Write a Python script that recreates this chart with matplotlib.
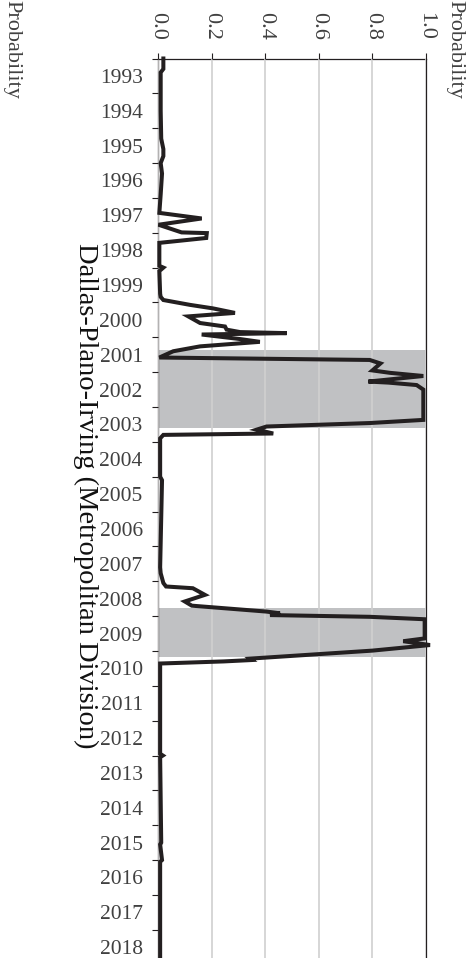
import numpy as np
import matplotlib.pyplot as plt

plt.rcParams['font.family'] = ['Liberation Serif', 'DejaVu Serif']

# recession probability, decimal year vs probability
dates = [1993.00, 1993.30, 1993.40, 1994.50, 1995.30, 1995.60, 1995.80, 1996.00,
         1996.30, 1996.90, 1997.43, 1997.59, 1997.77, 1997.99, 1998.01, 1998.15,
         1998.29, 1998.95, 1999.00, 1999.10, 1999.75, 1999.84, 1999.93, 2000.07,
         2000.17, 2000.30, 2000.40, 2000.59, 2000.69, 2000.78, 2000.85, 2000.88,
         2000.92, 2001.05, 2001.13, 2001.26, 2001.40, 2001.58, 2001.65, 2001.75,
         2001.95, 2002.02, 2002.11, 2002.27, 2002.30, 2002.37, 2002.50, 2003.37,
         2003.46, 2003.56, 2003.65, 2003.76, 2003.80, 2003.90, 2005.00, 2005.10,
         2007.60, 2007.77, 2008.05, 2008.15, 2008.20, 2008.39, 2008.58, 2008.70,
         2008.87, 2008.92, 2008.97, 2009.02, 2009.09, 2009.64, 2009.72, 2009.83,
         2009.99, 2010.22, 2010.26, 2010.30, 2010.36, 2012.95, 2013.00, 2013.05,
         2015.50, 2015.55, 2016.00, 2016.05, 2018.81]
prob = [0.020, 0.020, 0.010, 0.010, 0.012, 0.020, 0.020, 0.010,
        0.015, 0.010, 0.005, 0.163, 0.002, 0.088, 0.182, 0.180,
        0.005, 0.005, 0.020, 0.005, 0.008, 0.010, 0.020, 0.120,
        0.205, 0.287, 0.113, 0.157, 0.250, 0.256, 0.306, 0.480,
        0.163, 0.306, 0.380, 0.157, 0.057, 0.005, 0.790, 0.830,
        0.800, 0.866, 0.990, 0.785, 0.860, 0.965, 0.990, 0.990,
        0.790, 0.405, 0.368, 0.430, 0.020, 0.008, 0.008, 0.015,
        0.008, 0.010, 0.020, 0.030, 0.130, 0.175, 0.100, 0.126,
        0.405, 0.455, 0.418, 0.790, 0.995, 0.995, 0.915, 1.015,
        0.800, 0.343, 0.350, 0.245, 0.008, 0.008, 0.018, 0.008,
        0.012, 0.008, 0.015, 0.008, 0.008]

# shaded recession periods
recessions = [(2001.365, 2003.60), (2008.78, 2010.18)]

years = np.arange(1993, 2019)
prob_ticks = [0.0, 0.2, 0.4, 0.6, 0.8, 1.0]
title = "Dallas-Plano-Irving (Metropolitan Division)"

fig = plt.figure(figsize=(4.74, 9.58), dpi=100)
ax = fig.add_axes([158 / 474, 0.0, 268 / 474, 899.5 / 958])

for start, end in recessions:
    ax.axhspan(start, end, color='#c0c1c3', lw=0, zorder=1)

ax.plot(prob, dates, color='#231f20', lw=2.9, solid_joinstyle='miter',
        clip_on=False, zorder=3)

ax.set_xlim(0, 1)
ax.set_ylim(2018.81, 1993.0)

# probability axis along the top, text turned a quarter clockwise
ax.xaxis.tick_top()
ax.set_xticks(prob_ticks, labels=[f"{v:.1f}" for v in prob_ticks],
              rotation=-90)
ax.tick_params(axis='x', length=4.5, width=0.8, pad=9, labelsize=16,
               labelcolor='#404040', color='#231f20')
ax.grid(axis='x', color='#d0d0d0', lw=1.2, zorder=2)
ax.set_axisbelow(False)

# year ticks at boundaries, labels centred in each year
ax.set_yticks(years, labels=[])
ax.set_yticks(years + 0.5, labels=[str(y) for y in years], minor=True)
ax.tick_params(axis='y', which='major', length=4, width=0.8,
               color='#231f20')
ax.tick_params(axis='y', which='minor', length=0, pad=11, labelsize=15.5,
               labelcolor='#404040')

for side in ['left', 'top', 'right']:
    ax.spines[side].set_color('#231f20')
    ax.spines[side].set_linewidth(0.9)
ax.spines['bottom'].set_visible(False)

fig.text(86 / 474, 1 - 496 / 958, title, rotation=-90, ha='center',
         va='center', fontsize=20.5, color='#111111')
fig.text(12 / 474, 1.0, "Probability", rotation=-90, ha='center', va='top',
         fontsize=16, color='#404040')
fig.text(455 / 474, 1.0, "Probability", rotation=-90, ha='center', va='top',
         fontsize=16, color='#404040')

fig.savefig("out.png", dpi=100)
